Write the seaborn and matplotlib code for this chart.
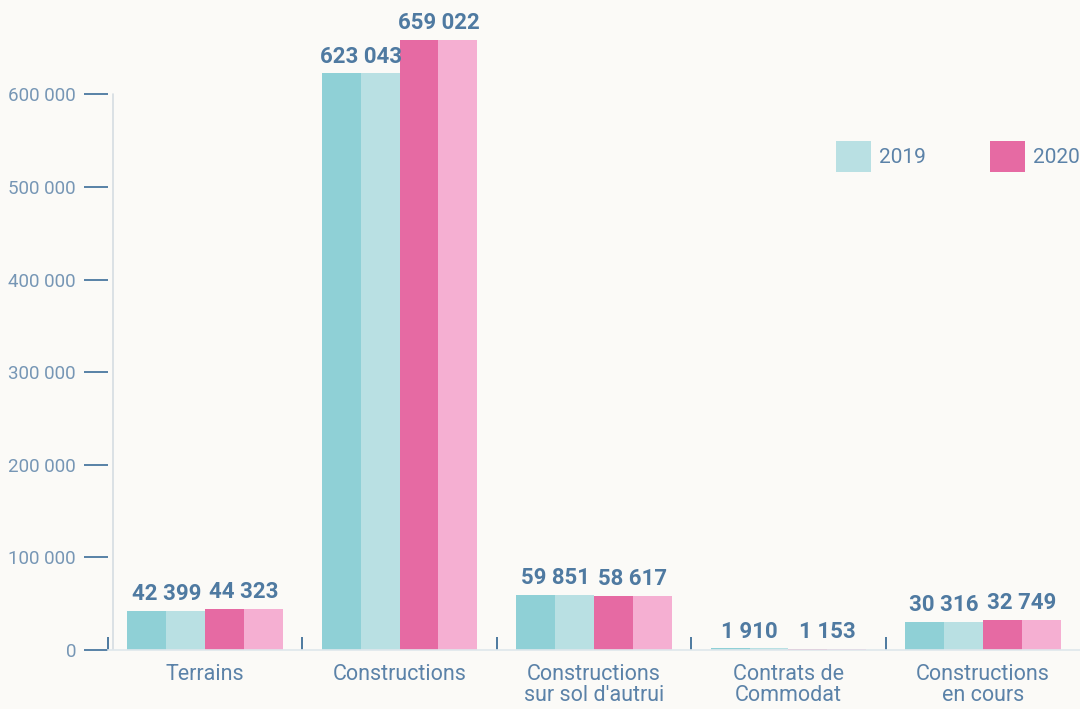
"""Bar chart of immobilisations 2019 / 2020 by category."""
import matplotlib
matplotlib.use('Agg')
import matplotlib.pyplot as plt
import matplotlib.ticker as mticker
import pandas as pd
import seaborn as sns

categories = ['Terrains', 'Constructions', "Constructions\nsur sol d'autrui",
              'Contrats de\nCommodat', 'Constructions\nen cours']
values_2019 = [42399, 623043, 59851, 1910, 30316]
values_2020 = [44323, 659022, 58617, 1153, 32749]
y_ticks = [0, 100000, 200000, 300000, 400000, 500000, 600000]

# each year drawn as a pair of bars (dark + light shade) with the same value
series = ['2019 a', '2019 b', '2020 a', '2020 b']
palette = {'2019 a': '#8fd0d6', '2019 b': '#b9e0e3',
           '2020 a': '#e66aa3', '2020 b': '#f5afd2'}

rows = []
for cat, v19, v20 in zip(categories, values_2019, values_2020):
    rows += [(cat, '2019 a', v19), (cat, '2019 b', v19),
             (cat, '2020 a', v20), (cat, '2020 b', v20)]
df = pd.DataFrame(rows, columns=['category', 'series', 'value'])

BG = '#fbfaf7'
TXT = '#5b82a8'
LBL = '#4f7aa1'
YMAX = 702000

sns.set_style('white')
plt.rcParams['font.family'] = ['Roboto', 'DejaVu Sans']

fig = plt.figure(figsize=(10.8, 7.09), dpi=100, facecolor=BG)
ax = fig.add_axes([108 / 1080, 59 / 709, 972 / 1080, 650 / 709])
ax.set_facecolor(BG)

sns.barplot(data=df, x='category', y='value', hue='series',
            hue_order=series, palette=palette, width=0.8, gap=0,
            saturation=1, legend=False, ax=ax, order=categories,
            linewidth=0, edgecolor='none')

ax.set_xlim(-0.5, 4.5)
ax.set_ylim(0, YMAX)

# value labels centred over each pair of bars
for first, second, vals in [(0, 1, values_2019), (2, 3, values_2020)]:
    for p1, p2, v in zip(ax.containers[first], ax.containers[second], vals):
        xc = (p1.get_x() + p2.get_x() + p2.get_width()) / 2
        ax.annotate(f'{v:,}'.replace(',', ' '), (xc, v), xytext=(0, 4),
                    textcoords='offset points', ha='center', va='bottom',
                    fontsize=16, fontweight='bold', color=LBL)

# y axis
ax.set_yticks(y_ticks)
ax.yaxis.set_major_formatter(
    mticker.FuncFormatter(lambda v, _: f'{int(v):,}'.replace(',', ' ')))
ax.tick_params(axis='y', left=True, direction='out', length=17, width=1.3,
               color='#4a78a0', pad=6, labelsize=13.5, labelcolor='#7696b5')

# x axis: category labels, boundary ticks pointing up
ax.tick_params(axis='x', which='major', bottom=True, length=0, pad=10,
               labelsize=15.5, labelcolor=TXT)
ax.set_xticks([-0.5, 0.5, 1.5, 2.5, 3.5], minor=True)
ax.tick_params(axis='x', which='minor', bottom=True, direction='in',
               length=9.5, width=1.3, color='#3f6f98')
for t in ax.get_xticklabels():
    t.set_linespacing(1.0)
ax.set_xlabel('')
ax.set_ylabel('')

# spines
for s in ['top', 'right', 'left']:
    ax.spines[s].set_visible(False)
ax.spines['bottom'].set_color('#dfe7ec')
ax.spines['bottom'].set_linewidth(1.2)
ax.axvline(-0.474, ymin=0, ymax=y_ticks[-1] / YMAX, color='#d5dde2',
           lw=1.2, zorder=0)

# legend
leg = ax.legend([ax.containers[1], ax.containers[2]], ['2019', '2020'],
                loc='upper left', bbox_to_anchor=(836 / 1080, 1 - 141 / 709),
                bbox_transform=fig.transFigure, ncol=2, frameon=False,
                borderpad=0, borderaxespad=0, fontsize=15,
                handlelength=1.68, handleheight=1.9, handletextpad=0.38,
                columnspacing=3.1)
for t in leg.get_texts():
    t.set_color(TXT)

plt.savefig('out.png', dpi=100, facecolor=BG)
plt.close()
